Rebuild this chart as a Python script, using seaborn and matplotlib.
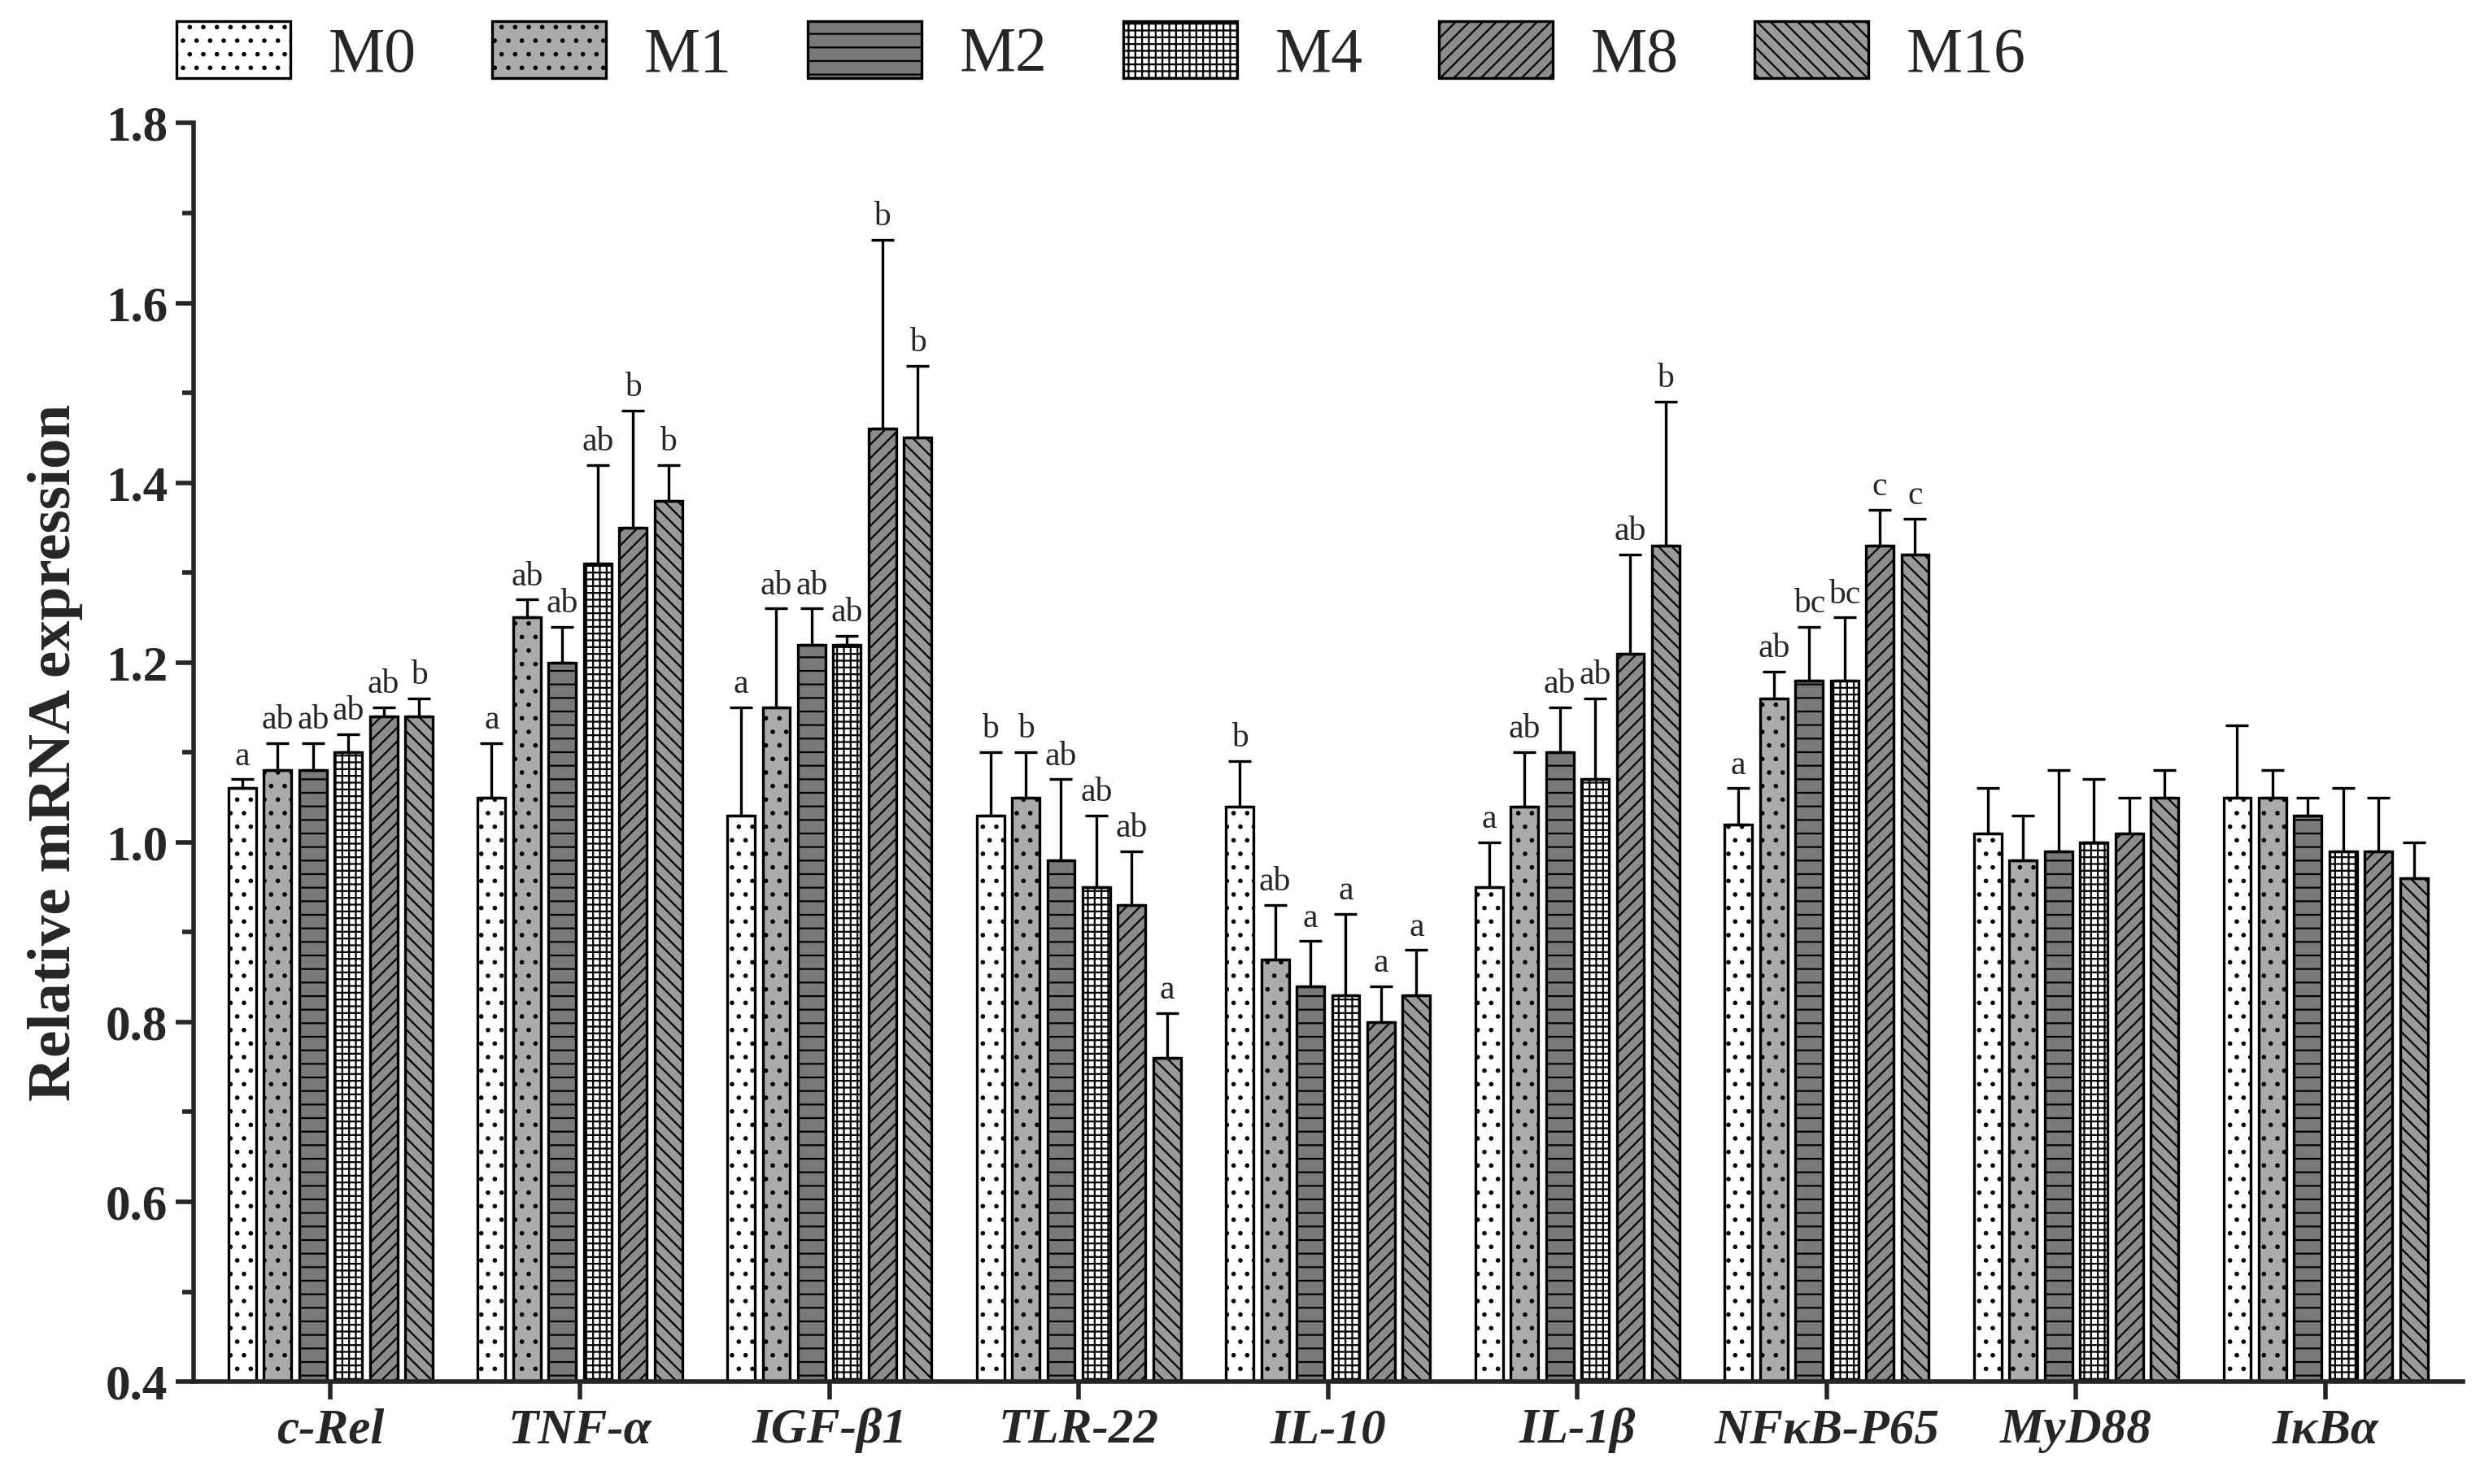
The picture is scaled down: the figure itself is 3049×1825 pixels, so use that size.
import numpy as np
import pandas as pd
import seaborn as sns
import matplotlib.pyplot as plt
from matplotlib.ticker import MultipleLocator

genes = ['c-Rel', 'TNF-α', 'IGF-β1', 'TLR-22', 'IL-10', 'IL-1β', 'NFκB-P65', 'MyD88', 'IκBα']
groups = ['M0', 'M1', 'M2', 'M4', 'M8', 'M16']

means = [
    [1.06, 1.08, 1.08, 1.10, 1.14, 1.14],
    [1.05, 1.25, 1.20, 1.31, 1.35, 1.38],
    [1.03, 1.15, 1.22, 1.22, 1.46, 1.45],
    [1.03, 1.05, 0.98, 0.95, 0.93, 0.76],
    [1.04, 0.87, 0.84, 0.83, 0.80, 0.83],
    [0.95, 1.04, 1.10, 1.07, 1.21, 1.33],
    [1.02, 1.16, 1.18, 1.18, 1.33, 1.32],
    [1.01, 0.98, 0.99, 1.00, 1.01, 1.05],
    [1.05, 1.05, 1.03, 0.99, 0.99, 0.96],
]
errors = [
    [0.01, 0.03, 0.03, 0.02, 0.01, 0.02],
    [0.06, 0.02, 0.04, 0.11, 0.13, 0.04],
    [0.12, 0.11, 0.04, 0.01, 0.21, 0.08],
    [0.07, 0.05, 0.09, 0.08, 0.06, 0.05],
    [0.05, 0.06, 0.05, 0.09, 0.04, 0.05],
    [0.05, 0.06, 0.05, 0.09, 0.11, 0.16],
    [0.04, 0.03, 0.06, 0.07, 0.04, 0.04],
    [0.05, 0.05, 0.09, 0.07, 0.04, 0.03],
    [0.08, 0.03, 0.02, 0.07, 0.06, 0.04],
]
letters = [
    ['a', 'ab', 'ab', 'ab', 'ab', 'b'],
    ['a', 'ab', 'ab', 'ab', 'b', 'b'],
    ['a', 'ab', 'ab', 'ab', 'b', 'b'],
    ['b', 'b', 'ab', 'ab', 'ab', 'a'],
    ['b', 'ab', 'a', 'a', 'a', 'a'],
    ['a', 'ab', 'ab', 'ab', 'ab', 'b'],
    ['a', 'ab', 'bc', 'bc', 'c', 'c'],
    [''] * 6,
    [''] * 6,
]

colors = ['white', '#ababab', '#7a7a7a', 'white', '#8c8c8c', '#9a9a9a']
hatches = ['..', '..', '--', '++++', '////', '\\\\\\\\']

sns.set_style('ticks')
plt.rcParams['font.family'] = ['Liberation Serif', 'DejaVu Serif']
plt.rcParams['hatch.linewidth'] = 0.8

rows = []
for i, g in enumerate(genes):
    for j, m in enumerate(groups):
        rows.append({'gene': g, 'group': m, 'value': means[i][j] - 0.4})
df = pd.DataFrame(rows)

fig = plt.figure(figsize=(15.245, 9.125), dpi=200)
ax = fig.add_axes([0.078, 0.069, 0.915, 0.848])
sns.barplot(data=df, x='gene', y='value', hue='group', palette=colors,
            width=0.85, gap=0.22, edgecolor='black', linewidth=1.2,
            errorbar=None, ax=ax)

# bars are drawn hue by hue, so patches run group-major
for j in range(len(groups)):
    for i in range(len(genes)):
        p = ax.patches[j * len(genes) + i]
        p.set_y(0.4)
        p.set_hatch(hatches[j])
        x = p.get_x() + p.get_width() / 2
        top = means[i][j]
        err = errors[i][j]
        ax.errorbar(x, top, yerr=[[0], [err]], fmt='none', ecolor='black',
                    elinewidth=1.2, capsize=5, capthick=1.2)
        if letters[i][j]:
            ax.text(x, top + err + 0.008, letters[i][j], ha='center', va='bottom', fontsize=15)

ax.set_ylim(0.4, 1.8)
ax.yaxis.set_major_locator(MultipleLocator(0.2))
ax.yaxis.set_minor_locator(MultipleLocator(0.1))
ax.set_xlim(-0.55, len(genes) - 0.45)
ax.set_xlabel('')
ax.set_ylabel('Relative mRNA expression', fontsize=27, fontweight='bold', labelpad=10)
ax.tick_params(axis='y', which='major', length=8, width=2, labelsize=22)
ax.tick_params(axis='y', which='minor', length=5, width=2)
ax.tick_params(axis='x', length=8, width=2, labelsize=22)
for lab in ax.get_yticklabels():
    lab.set_fontweight('bold')
for lab in ax.get_xticklabels():
    lab.set_fontweight('bold')
    lab.set_fontstyle('italic')
sns.despine(ax=ax)
for s in ['left', 'bottom']:
    ax.spines[s].set_linewidth(2)

handles, labels = ax.get_legend_handles_labels()
for h, hat in zip(handles, hatches):
    h.set_hatch(hat)
ax.legend(handles, labels, loc='lower center', bbox_to_anchor=(0.4, 1.0), ncol=6,
          frameon=False, fontsize=28, handlelength=1.8, handleheight=1.0,
          columnspacing=1.2, handletextpad=0.6, borderaxespad=0.2)

fig.savefig('out.png', dpi=200)
